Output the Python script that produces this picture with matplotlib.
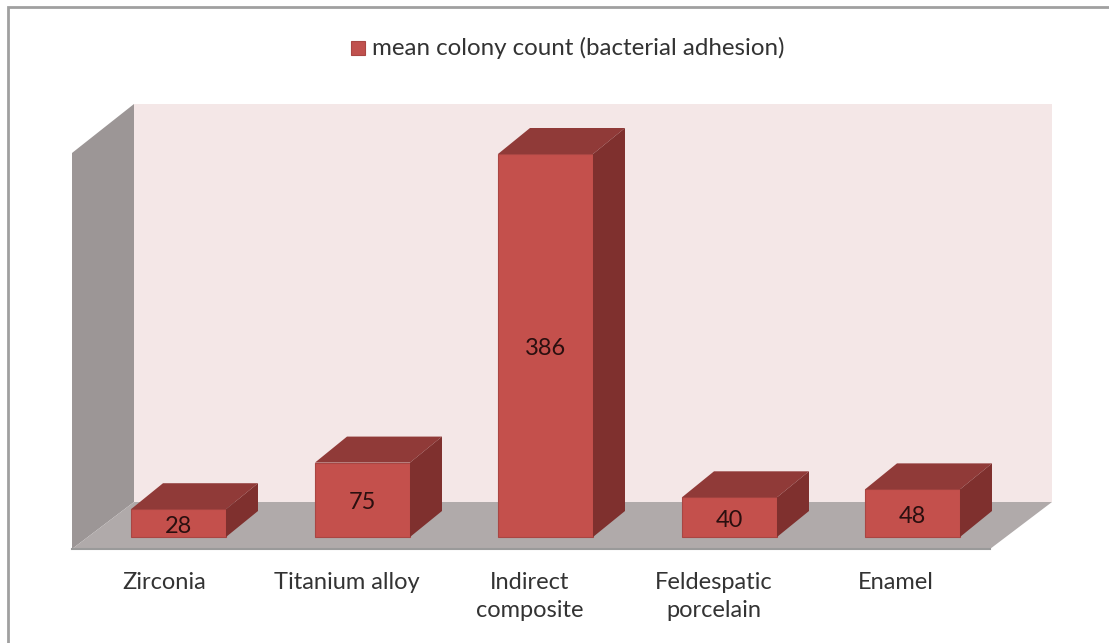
import matplotlib
matplotlib.use('Agg')
import matplotlib.pyplot as plt
from matplotlib.patches import Polygon, Rectangle

categories = ['Zirconia', 'Titanium alloy', 'Indirect\ncomposite', 'Feldespatic\nporcelain', 'Enamel']
values = [28, 75, 386, 40, 48]
legend_label = 'mean colony count (bacterial adhesion)'

W, H = 1109, 643
plt.rcParams['font.family'] = ['Lato', 'DejaVu Sans']

fig = plt.figure(figsize=(W / 100, H / 100), dpi=100, facecolor='white')
ax = fig.add_axes([0, 0, 1, 1])
ax.set_xlim(0, W)
ax.set_ylim(H, 0)
ax.axis('off')

# outer frame, right and bottom sides are cut off by the image
ax.add_patch(Rectangle((8, 7), W + 20, 660, fc='white', ec='#a0a0a0', lw=2))

# back wall, side wall, floor
ax.add_patch(Polygon([(134, 104), (1052, 104), (1052, 502), (134, 502)], fc='#f4e7e7', ec='none'))
ax.add_patch(Polygon([(72, 153), (134, 104), (134, 502), (72, 549)], fc='#9c9696', ec='none'))
ax.add_patch(Polygon([(72, 549), (134, 502), (1052, 502), (990, 549)], fc='#b0aaaa', ec='none'))
ax.plot([72, 990], [549, 549], color='#9a9a9a', lw=1.5)

# bars: 386 units is about 383 px
base_y = 537
scale = 383 / 386
bar_w = 95
dx, dy = 32, 26
lefts = [131, 315, 498, 682, 865]
label_x = [164, 347, 530, 714, 896]

for left, val in zip(lefts, values):
    top = base_y - val * scale
    right = left + bar_w
    ax.add_patch(Polygon([(left, top), (right, top), (right, base_y), (left, base_y)], fc='#c4504c', ec='#a94643', lw=0.8))
    ax.add_patch(Polygon([(left, top), (left + dx, top - dy), (right + dx, top - dy), (right, top)], fc='#903a38', ec='none'))
    ax.add_patch(Polygon([(right, top), (right + dx, top - dy), (right + dx, base_y - dy), (right, base_y)], fc='#7f302e', ec='none'))
    ax.text(left + bar_w / 2, (top + base_y) / 2 + 3, str(val), ha='center', va='center', fontsize=17, color='#2a0f0f')

# category labels
for x, name in zip(label_x, categories):
    ax.text(x, 572, name, ha='center', va='top', fontsize=17, color='#333333', linespacing=1.42)

# legend
ax.add_patch(Rectangle((351, 41), 14, 14, fc='#c0504d', ec='#a94643', lw=0.8))
ax.text(372, 48, legend_label, ha='left', va='center', fontsize=17.35, color='#333333')

fig.savefig('out.png', dpi=100)
